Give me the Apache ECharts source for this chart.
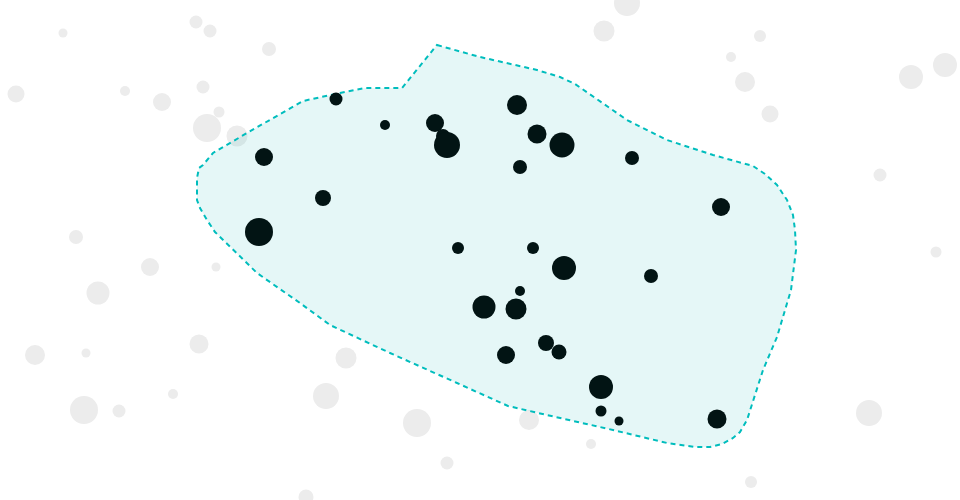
<!DOCTYPE html>
<html>
<head>
<meta charset="utf-8">
<script src="https://cdn.jsdelivr.net/npm/echarts@6/dist/echarts.min.js"></script>
<style>html,body{margin:0;padding:0;background:#fff;}#chart{width:960px;height:500px;}</style>
</head>
<body>
<div id="chart"></div>
<script>
// Background (grey) points: [x, y, radius]
const backgroundPoints = [
  [63,33,4.5],[196,22,6.5],[210,31,6.5],[269,49,7],[16,94,8.5],[125,91,5],
  [162,102,9],[203,87,6.5],[219,112,5.5],[207,128,14],[237,136,10.5],[76,237,7],
  [150,267,9],[216,267,4.5],[98,293,11.5],[35,355,10],[86,353,4.5],[199,344,9.5],
  [173,394,5],[84,410,14],[119,411,6.5],[326,396,13],[417,423,14],[529,420,10],
  [591,444,5],[447,463,6.5],[306,497,7.5],[346,358,10.5],[627,3,13],[604,31,10.5],
  [760,36,6],[731,57,5],[745,82,10],[770,114,8.5],[911,77,12],[945,65,12],
  [880,175,6.5],[936,252,5.5],[869,413,13],[751,482,6]
];
// Highlighted (dark) points: [x, y, radius]
const clusterPoints = [
  [336,99,6.5],[385,125,5],[435,123,9],[443,136,7],[447,145,13],[264,157,9],
  [323,198,8],[259,232,14],[458,248,6],[517,105,10],[537,134,9.5],[562,145,12.5],
  [520,167,7],[632,158,7],[721,207,9],[533,248,6],[564,268,12],[651,276,7],
  [520,291,5],[516,309,10.5],[484,307,11.5],[506,355,9],[546,343,8],[559,352,7.5],
  [601,387,12],[601,411,5.5],[619,421,4.5],[717,419,9.5]
];
// Hull outline around the cluster
const hullX = [437,480,537,560,575,627,667,713,753,765,777,787,793,795,796,791,777,763,747,740,733,722,710,695,667,613,547,508,457,390,330,300,257,215,207,200,197,197,199,203,213,247,303,340,365,402];
const hullY = [45,57,70,77,84,120,140,155,166,174,185,200,215,230,250,290,337,370,420,432,438,444,447,447,443,430,415,406,383,353,325,303,273,232,220,208,200,178,168,165,153,133,101,93,88,88];

const chart = echarts.init(document.getElementById('chart'));
chart.setOption({
  animation: false,
  grid: {left: 0, right: 0, top: 0, bottom: 0},
  xAxis: {type: 'value', min: 0, max: 960, show: false},
  yAxis: {type: 'value', min: 0, max: 500, inverse: true, show: false},
  series: [
    {
      type: 'scatter', z: 1,
      data: backgroundPoints,
      symbolSize: v => v[2] * 2,
      itemStyle: {color: '#ececec', opacity: 1}
    },
    {
      type: 'custom', z: 2,
      data: [0],
      renderItem: (params, api) => {
        const pts = hullX.map((x, i) => api.coord([x, hullY[i]]));
        return {
          type: 'polygon',
          shape: {points: pts},
          style: {
            fill: 'rgba(0,181,181,0.1)',
            stroke: '#00bdbd',
            lineWidth: 2,
            lineDash: [5, 4]
          }
        };
      },
      silent: true
    },
    {
      type: 'scatter', z: 3,
      data: clusterPoints,
      symbolSize: v => v[2] * 2,
      itemStyle: {color: '#021414', opacity: 1}
    }
  ]
});
</script>
</body>
</html>
